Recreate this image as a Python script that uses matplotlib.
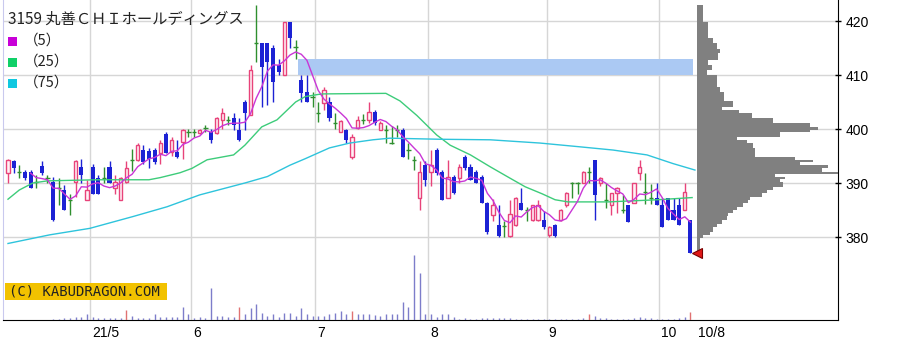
import matplotlib
matplotlib.use('Agg')
import matplotlib.pyplot as plt
import numpy as np
import pandas as pd
from matplotlib.patches import Rectangle

plt.rcParams['font.family'] = ['Liberation Sans', 'Noto Sans CJK JP', 'DejaVu Sans']

# ---------------- data ----------------
title = "3159 丸善ＣＨＩホールディングス"
legend_labels = ["（5）", "（25）", "（75）"]
copyright_text = "(C) KABUDRAGON.COM"

opens = [391.9, 394.1, 392.0, 392.1, 392.1, 390.2, 393.1, 390.9, 390.2, 389.0,
         388.7, 386.9, 390.2, 393.0, 386.9, 393.0, 390.9, 391.0, 393.0, 389.0,
         386.9, 390.2, 394.3, 394.3, 396.1, 396.0, 396.1, 395.6, 399.0, 395.8,
         395.8, 397.6, 399.5, 399.5, 399.2, 400.2, 399.5, 399.2, 401.7, 401.7,
         402.0, 399.8, 405.0, 402.6, 415.9, 415.9, 415.9, 415.0, 411.9, 410.0,
         419.9, 415.2, 409.0, 406.9, 406.0, 403.0, 404.8, 405.0, 401.1, 399.5,
         399.8, 394.8, 400.2, 401.7, 401.7, 403.2, 399.8, 399.8, 397.4, 399.8,
         399.8, 396.1, 394.3, 387.2, 393.3, 392.1, 396.1, 392.1, 387.2, 391.2,
         390.9, 394.9, 393.0, 392.1, 391.2, 386.3, 384.0, 382.2, 382.0, 380.1,
         382.2, 386.3, 385.0, 383.1, 383.1, 383.1, 380.4, 382.2, 383.1, 385.9,
         390.0, 390.0, 390.0, 392.1, 394.3, 390.0, 386.9, 385.9, 388.1, 385.0,
         385.9, 386.3, 391.8, 388.4, 387.2, 387.2, 385.9, 387.2, 385.0, 385.9,
         385.0, 383.1]
highs = [394.5, 394.3, 393.3, 392.5, 392.5, 391.5, 394.1, 391.5, 391.2, 391.0,
         389.6, 388.0, 394.3, 394.5, 390.5, 393.5, 391.5, 393.0, 394.1, 391.5,
         391.2, 394.0, 396.3, 397.4, 397.0, 396.5, 396.5, 398.0, 399.5, 398.5,
         398.0, 400.0, 400.0, 400.0, 400.0, 400.8, 400.0, 402.3, 403.8, 402.5,
         403.0, 402.0, 405.3, 411.8, 423.0, 416.0, 416.0, 415.5, 413.0, 419.9,
         419.9, 416.5, 410.0, 410.0, 406.9, 405.0, 407.8, 405.9, 403.0, 401.6,
         400.0, 399.0, 402.5, 402.8, 405.0, 403.5, 401.5, 400.8, 400.5, 400.8,
         400.2, 397.5, 395.0, 394.0, 394.0, 396.1, 396.5, 392.5, 394.3, 391.5,
         393.5, 395.2, 393.5, 392.5, 391.5, 386.5, 387.0, 386.0, 383.0, 386.9,
         387.5, 389.0, 385.5, 386.0, 386.9, 384.8, 382.0, 382.5, 385.2, 388.3,
         390.2, 390.2, 392.3, 393.0, 394.3, 391.2, 390.0, 388.1, 389.3, 387.8,
         385.9, 390.0, 394.3, 391.9, 389.9, 390.0, 387.2, 387.2, 387.2, 387.2,
         390.0, 383.1]
lows = [390.0, 391.9, 390.9, 390.5, 389.0, 389.0, 391.5, 390.0, 383.0, 386.0,
        385.0, 384.1, 387.5, 390.0, 386.9, 388.0, 388.0, 390.0, 390.0, 388.0,
        386.9, 390.0, 392.3, 394.0, 393.5, 392.7, 393.5, 393.5, 395.5, 395.0,
        394.6, 394.5, 398.5, 398.5, 399.0, 399.5, 397.5, 399.0, 400.0, 400.8,
        399.8, 397.8, 399.8, 402.6, 412.5, 404.0, 404.5, 405.0, 410.0, 410.0,
        415.0, 412.9, 405.0, 405.0, 404.0, 401.3, 403.6, 401.5, 400.0, 399.5,
        397.5, 394.5, 400.0, 400.9, 401.2, 400.8, 399.8, 397.4, 397.2, 398.6,
        394.8, 394.5, 392.5, 385.0, 389.5, 389.5, 391.5, 386.9, 387.2, 388.0,
        390.0, 392.5, 390.5, 390.0, 386.3, 380.5, 383.0, 380.0, 380.0, 380.0,
        382.0, 385.0, 383.0, 383.0, 383.0, 381.5, 380.0, 380.0, 383.0, 385.5,
        387.3, 388.0, 390.0, 390.0, 383.1, 389.5, 385.4, 384.0, 384.4, 384.4,
        382.8, 386.3, 390.5, 386.2, 386.2, 385.9, 381.9, 383.1, 383.1, 382.2,
        385.0, 377.0]
closes = [394.3, 392.8, 392.0, 390.9, 389.1, 390.2, 391.9, 390.9, 383.1, 389.0,
          385.0, 386.9, 394.1, 391.5, 388.7, 388.0, 388.0, 391.0, 390.0, 390.2,
          390.9, 392.7, 394.3, 397.0, 393.9, 394.5, 393.9, 397.4, 395.6, 398.0,
          394.9, 399.8, 399.5, 399.5, 399.8, 400.2, 398.0, 402.0, 403.0, 401.7,
          400.7, 398.0, 402.9, 410.9, 415.9, 411.5, 412.4, 408.7, 410.6, 419.9,
          416.9, 415.2, 406.6, 405.0, 406.0, 403.0, 407.2, 402.0, 401.1, 401.4,
          398.0, 398.5, 401.7, 401.7, 403.2, 401.1, 401.1, 399.8, 397.4, 399.8,
          394.8, 396.1, 394.3, 392.1, 390.5, 393.3, 391.8, 386.9, 391.2, 388.1,
          393.0, 392.7, 390.5, 390.0, 386.3, 380.9, 386.0, 380.1, 382.0, 384.2,
          387.2, 385.0, 385.0, 385.9, 385.9, 381.9, 381.9, 380.1, 385.0, 388.1,
          390.0, 390.0, 392.1, 392.1, 387.8, 390.9, 386.9, 388.1, 389.0, 385.0,
          382.8, 390.0, 393.0, 388.4, 387.2, 385.9, 381.9, 383.1, 383.1, 382.2,
          388.4, 377.0]
volumes = [4, 4, 4, 4, 4, 4, 4, 4, 10, 13,
           23, 17, 27, 33, 60, 27, 23, 17, 17, 17,
           17, 100, 40, 17, 17, 17, 60, 27, 27, 27,
           27, 127, 60, 17, 27, 17, 323, 40, 40, 27,
           27, 127, 60, 117, 157, 73, 40, 60, 27, 73,
           73, 40, 117, 60, 40, 40, 40, 60, 73, 90,
           60, 90, 60, 60, 60, 50, 40, 60, 60, 60,
           183, 127, 650, 467, 60, 60, 27, 60, 60, 27,
           13, 17, 13, 10, 20, 20, 20, 20, 17, 20,
           13, 13, 13, 13, 13, 10, 10, 10, 10, 10,
           10, 10, 17, 60, 40, 20, 17, 13, 13, 13,
           13, 17, 30, 20, 17, 10, 10, 10, 10, 17,
           33, 83]
red_volume_days = [21, 41, 61, 103, 121]

# moving averages (candle index, price)
ma25_idx = [0, 2, 4.4, 7, 16, 25, 27, 30.5, 32.6, 35.3, 40, 42, 45, 47.7, 51, 52.7,
            55, 56, 67, 69.5, 72.5, 76, 78.4, 82, 85.5, 89, 91.7, 94.7, 97, 99.3,
            106.4, 115.2, 121.3]
ma25_val = [387.0, 388.7, 390.0, 390.4, 390.6, 390.6, 391.0, 391.9, 392.7, 394.3,
            395.2, 397.0, 400.4, 401.7, 405.0, 406.0, 406.4, 406.5, 406.6, 405.2,
            402.5, 398.9, 397.0, 395.2, 393.0, 390.9, 389.3, 388.0, 386.9, 386.5,
            386.5, 386.9, 387.3]
ma75_idx = [0, 7.4, 14.5, 22.2, 28.2, 34, 42, 46, 50, 52.7, 57, 60.6, 64.7, 67.7,
            76.6, 85.5, 94.3, 101.4, 107.3, 113.3, 117.9, 121.8]
ma75_val = [378.8, 380.4, 381.6, 383.8, 385.6, 387.8, 390.0, 391.2, 393.3, 394.5,
            396.5, 397.4, 398.0, 398.3, 398.1, 398.0, 397.4, 396.7, 396.1, 395.2,
            393.6, 392.4]

# price-volume profile (bin edges from top to bottom, relative volume)
prof_edges = [423.0, 419.9, 416.8, 415.9, 414.9, 414.0, 412.8, 411.9, 410.9, 410.0,
              407.8, 406.9, 405.1, 404.1, 403.5, 402.9, 402.0, 401.1, 400.4, 399.8,
              399.5, 398.6, 398.0, 397.4, 396.4, 394.9, 394.3, 393.8, 393.3, 392.7,
              392.1, 391.7, 391.2, 390.7, 390.1, 389.3, 388.7, 388.1, 387.5, 386.9,
              386.3, 385.6, 385.0, 384.4, 383.8, 383.1, 382.5, 381.9, 381.0, 380.4,
              379.8, 377.0]
prof_vol = [6, 11, 16, 20, 23, 21, 11, 15, 10, 20,
            23, 27, 36, 25, 42, 55, 76, 113, 121, 113,
            83, 40, 50, 56, 58, 98, 116, 103, 131, 125,
            141, 78, 88, 83, 86, 76, 70, 65, 53, 51,
            46, 40, 36, 31, 30, 25, 20, 16, 13, 6, 3]

# unfilled gap (window) zone
gap_start_idx = 51.4
gap_low, gap_high = 410.0, 412.9

month_start_idx = [15, 33, 55, 75, 96, 116]
month_labels = ["21/5", "6", "7", "8", "9", "10"]
last_label = "10/8"
price_ticks = [380, 390, 400, 410, 420]

# ---------------- layout ----------------
W, H = 898, 355
fig = plt.figure(figsize=(W / 100, H / 100), dpi=100)
fig.patch.set_facecolor('white')

px_left, px_right, px_bottom = 3, 838, 320
first_px, step = 8.0, 5.64
y420_px, per_yen = 21.0, 5.4

rect = [px_left / W, 1 - px_bottom / H, (px_right - px_left) / W, px_bottom / H]
ax = fig.add_axes(rect)
ax.set_xlim((px_left - first_px) / step, (px_right - first_px) / step)
ax.set_ylim(420 - (px_bottom - y420_px) / per_yen, 420 + y420_px / per_yen)

UP, DN, DJ = '#e8437a', '#1c22d4', '#2f8f2f'
GRID = '#d6d6d6'

# grid
for p in price_ticks:
    ax.axhline(p, color=GRID, lw=1, zorder=0)
for m in month_start_idx:
    ax.axvline(m - 0.5, color=GRID, lw=1, zorder=0)

idx = np.arange(len(closes))
o = np.array(opens); h = np.array(highs); l = np.array(lows); c = np.array(closes)
up = c > o
dn = c < o
dj = c == o
cols = np.where(up, UP, np.where(dn, DN, DJ))

# gap band
n = len(closes)
ax.add_patch(Rectangle((gap_start_idx, gap_low), (n - 1 + 0.45) - gap_start_idx,
                       gap_high - gap_low, facecolor='#abc9f3', edgecolor='none', zorder=1))

# candles
ax.vlines(idx, l, h, colors=cols, lw=1, zorder=3)
ax.bar(idx[up], c[up] - o[up], bottom=o[up], width=0.6, facecolor='#fff2f6',
       edgecolor=UP, lw=1, zorder=4)
ax.bar(idx[dn], o[dn] - c[dn], bottom=c[dn], width=0.72, color=DN, lw=0, zorder=4)
ax.hlines(c[dj], idx[dj] - 0.38, idx[dj] + 0.38, colors=DJ, lw=1, zorder=4)

# moving averages
ma5 = pd.Series(closes).rolling(5).mean()
ax.plot(ma25_idx, ma25_val, color='#3dcc7a', lw=1, zorder=5)
ax.plot(ma75_idx, ma75_val, color='#2ec4dc', lw=1, zorder=5)
ax.plot(idx, ma5, color='#c936d6', lw=1, zorder=5)

# volume profile
prof_left = (697 - first_px) / step
pe = np.array(prof_edges)
ax.barh(pe[1:], np.array(prof_vol) / step, height=pe[:-1] - pe[1:], left=prof_left,
        align='edge', color='#808080', lw=0, zorder=3)

# last price marker
ax.plot(n - 1 + 1.1, closes[-1], marker='<', ms=7, color='#e01818', mec='#7a0000',
        mew=0.8, zorder=7, clip_on=False)

# axes styling
ax.spines['top'].set_visible(False)
ax.spines['left'].set_color('#c9c9ee')
ax.spines['right'].set_color('black')
ax.spines['bottom'].set_color('black')
ax.yaxis.tick_right()
ax.set_yticks(price_ticks)
ax.set_yticklabels([str(p) for p in price_ticks])
ax.tick_params(axis='y', direction='inout', length=5, width=1, pad=3,
               labelsize=10, colors='black')
xt = [m - 0.5 + 0.35 for m in month_start_idx] + [n - 1 + 1.3]
ax.set_xticks(xt)
ax.set_xticklabels(month_labels + [last_label])
ax.tick_params(axis='x', length=0, pad=4, labelsize=10, colors='black')
for lbl in ax.get_xticklabels():
    lbl.set_horizontalalignment('left')

# volume bars
axv = fig.add_axes(rect, sharex=ax)
axv.patch.set_visible(False)
axv.set_ylim(0, px_bottom * 10)
vcols = ['#e07272' if i in red_volume_days else '#7d7dca' for i in range(n)]
axv.vlines(idx, 0, volumes, colors=vcols, lw=1)
axv.axis('off')

# title & legend
def fy(ypx):
    return 1 - ypx / H

fig.text(8 / W, fy(19), title, fontsize=11, va='center', ha='left', color='#222222',
         family=['Noto Sans CJK JP', 'DejaVu Sans'])
leg_cols = ['#c800d8', '#10d068', '#10c8e0']
leg_y = [41, 62, 83]
for lab, colr, yy in zip(legend_labels, leg_cols, leg_y):
    fig.patches.append(Rectangle((8 / W, fy(yy + 4.5)), 9 / W, 9 / H, transform=fig.transFigure,
                                 facecolor=colr, edgecolor='none'))
    fig.text(24 / W, fy(yy), lab, fontsize=10.5, va='center', ha='left', color='#222222',
             family=['Noto Sans CJK JP', 'DejaVu Sans'])

# copyright box
fig.patches.append(Rectangle((5 / W, fy(300)), 162 / W, 17 / H, transform=fig.transFigure,
                             facecolor='#f2c200', edgecolor='none', zorder=10))
fig.text(9 / W, fy(291.5), copyright_text, fontsize=10, va='center', ha='left',
         color='#222222', family='DejaVu Sans Mono', zorder=11)

fig.savefig('out.png', dpi=100, facecolor='white')
